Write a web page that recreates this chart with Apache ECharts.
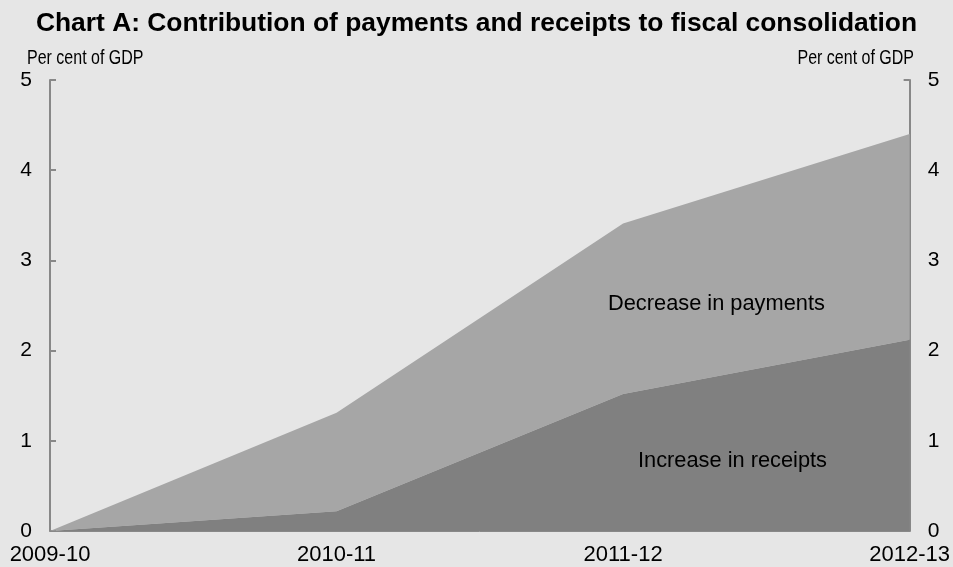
<!DOCTYPE html>
<html>
<head>
<meta charset="utf-8">
<script src="https://cdn.jsdelivr.net/npm/echarts@6/dist/echarts.min.js"></script>
<style>
  html, body { margin: 0; padding: 0; background: #e6e6e6; }
  #chart { width: 953px; height: 567px; }
</style>
</head>
<body>
<div id="chart"></div>
<script>
// Financial years on the horizontal axis
var years = ['2009-10', '2010-11', '2011-12', '2012-13'];
// Stacked contributions, per cent of GDP
var receiptsIncrease = [0, 0.22, 1.52, 2.12];
var paymentsDecrease = [0, 1.09, 1.89, 2.28];
// Vertical axis range
var yMin = 0, yMax = 5, yStep = 1;

var font = 'Liberation Sans, Arial, sans-serif';
var axisGrey = '#888888';

var chart = echarts.init(document.getElementById('chart'), null, { renderer: 'canvas' });

function valueAxis(pos) {
  return {
    type: 'value',
    position: pos,
    min: yMin, max: yMax, interval: yStep,
    axisLine: { show: true, lineStyle: { color: axisGrey, width: 2 } },
    axisTick: { show: true, inside: true, length: 6, lineStyle: { color: axisGrey, width: 2 } },
    axisLabel: { color: '#000', fontFamily: font, fontSize: 21, margin: 18 },
    splitLine: { show: false }
  };
}

// Axis unit captions are drawn tall and condensed
var unitFont = '20px ' + font;
var unitScale = 0.8;

chart.setOption({
  backgroundColor: '#e6e6e6',
  animation: false,
  title: {
    text: 'Chart A: Contribution of payments and receipts to fiscal consolidation',
    left: 'center', top: 6,
    textStyle: { fontFamily: font, fontSize: 26.4, fontWeight: 'bold', color: '#000' }
  },
  grid: { left: 50, right: 41, top: 80, bottom: 36 },
  xAxis: {
    type: 'category',
    data: years,
    boundaryGap: false,
    axisLine: { show: true, lineStyle: { color: axisGrey, width: 1 } },
    axisTick: { show: false },
    axisLabel: { color: '#000', fontFamily: font, fontSize: 22, margin: 13, interval: 0 }
  },
  yAxis: [valueAxis('left'), valueAxis('right')],
  graphic: [
    { type: 'text', x: 27, y: 48, scaleX: unitScale, z: 100,
      style: { text: 'Per cent of GDP', font: unitFont, fill: '#000' } },
    { type: 'text', x: 914, y: 48, scaleX: unitScale, z: 100,
      style: { text: 'Per cent of GDP', font: unitFont, fill: '#000', align: 'right' } },
    { type: 'text', left: 608, top: 293, z: 100, style: { text: 'Decrease in payments', font: '21.8px ' + font, fill: '#000' } },
    { type: 'text', left: 638, top: 450, z: 100, style: { text: 'Increase in receipts', font: '21.8px ' + font, fill: '#000' } }
  ],
  series: [
    {
      name: 'Increase in receipts',
      type: 'line', stack: 'total', data: receiptsIncrease,
      symbol: 'none', lineStyle: { width: 0 },
      areaStyle: { color: '#808080', opacity: 1 },
      z: 3
    },
    {
      name: 'Decrease in payments',
      type: 'line', stack: 'total', data: paymentsDecrease,
      symbol: 'none', lineStyle: { width: 0 },
      areaStyle: { color: '#a6a6a6', opacity: 1 },
      z: 2
    }
  ]
});
</script>
</body>
</html>
